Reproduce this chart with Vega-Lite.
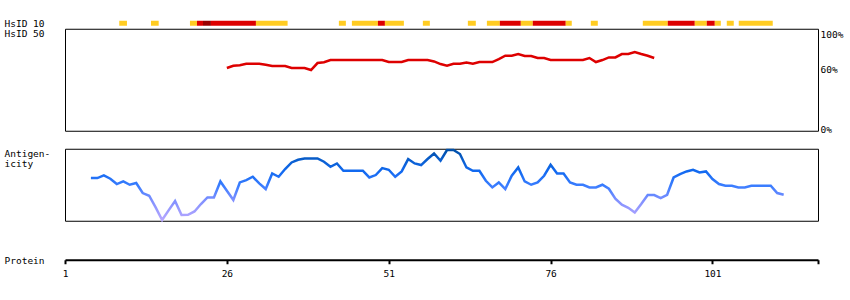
{
  "$schema": "https://vega.github.io/schema/vega-lite/v6.json",
  "autosize": {"type": "pad"},
  "padding": {"left": 3, "top": 17.75, "right": 0, "bottom": 0},
  "background": "white",
  "config": {
    "font": "DejaVu Sans Mono",
    "view": {"stroke": "black", "strokeWidth": 1},
    "axis": {
      "grid": false,
      "labelFont": "DejaVu Sans Mono",
      "titleFont": "DejaVu Sans Mono",
      "labelFontSize": 9.5,
      "titleFontSize": 9.5,
      "titleFontWeight": "normal",
      "labelColor": "black",
      "titleColor": "black"
    }
  },
  "bounds": "flush",
  "spacing": 3,
  "vconcat": [
    {
      "width": 753,
      "height": 5,
      "view": {"stroke": null},
      "data": {"values": [
        {"start": 9.38, "end": 10.57, "level": "low"},
        {"start": 14.28, "end": 15.47, "level": "low"},
        {"start": 20.30, "end": 21.38, "level": "low"},
        {"start": 21.38, "end": 22.31, "level": "mid"},
        {"start": 22.31, "end": 23.54, "level": "high"},
        {"start": 23.54, "end": 30.49, "level": "mid"},
        {"start": 30.49, "end": 35.38, "level": "low"},
        {"start": 43.30, "end": 44.38, "level": "low"},
        {"start": 45.31, "end": 49.33, "level": "low"},
        {"start": 49.33, "end": 50.41, "level": "mid"},
        {"start": 50.41, "end": 53.34, "level": "low"},
        {"start": 56.27, "end": 57.35, "level": "low"},
        {"start": 63.22, "end": 64.45, "level": "low"},
        {"start": 66.16, "end": 68.16, "level": "low"},
        {"start": 68.16, "end": 71.40, "level": "mid"},
        {"start": 71.40, "end": 73.25, "level": "low"},
        {"start": 73.25, "end": 78.34, "level": "mid"},
        {"start": 78.34, "end": 79.27, "level": "low"},
        {"start": 82.21, "end": 83.29, "level": "low"},
        {"start": 90.24, "end": 94.10, "level": "low"},
        {"start": 94.10, "end": 98.27, "level": "mid"},
        {"start": 98.27, "end": 100.12, "level": "low"},
        {"start": 100.12, "end": 101.36, "level": "mid"},
        {"start": 101.36, "end": 102.29, "level": "low"},
        {"start": 103.21, "end": 104.29, "level": "low"},
        {"start": 105.06, "end": 110.31, "level": "low"}
      ]},
      "mark": {"type": "rect"},
      "encoding": {
        "x": {"field": "start", "type": "quantitative", "scale": {"domain": [1, 117.3], "nice": false, "zero": false}, "axis": null},
        "x2": {"field": "end"},
        "y": {"datum": 0, "type": "quantitative", "scale": {"domain": [0, 1], "nice": false},
          "axis": {"title": "HsID 10", "orient": "left", "labels": false, "ticks": false, "domain": false,
            "titleAngle": 0, "titleAlign": "left", "titleBaseline": "middle", "titleX": -61, "titleY": 2.5}},
        "y2": {"datum": 1},
        "color": {"field": "level", "type": "nominal", "scale": {"domain": ["low", "mid", "high"], "range": ["#ffcc22", "#dd0000", "#990000"]}, "legend": null}
      }
    },
    {
      "width": 753,
      "height": 102,
      "layer": [
        {
          "data": {"values": [
            {"pos": 26, "hsid": 62.7}, {"pos": 27, "hsid": 65}, {"pos": 28, "hsid": 65.5}, {"pos": 29, "hsid": 67},
            {"pos": 30, "hsid": 67}, {"pos": 31, "hsid": 67}, {"pos": 32, "hsid": 66}, {"pos": 33, "hsid": 64.7},
            {"pos": 34, "hsid": 64.7}, {"pos": 35, "hsid": 64.7}, {"pos": 36, "hsid": 62.7}, {"pos": 37, "hsid": 62.7},
            {"pos": 38, "hsid": 62.7}, {"pos": 39, "hsid": 60.7}, {"pos": 40, "hsid": 67.7}, {"pos": 41, "hsid": 68.5},
            {"pos": 42, "hsid": 70.7}, {"pos": 43, "hsid": 70.7}, {"pos": 44, "hsid": 70.7}, {"pos": 45, "hsid": 70.7},
            {"pos": 46, "hsid": 70.7}, {"pos": 47, "hsid": 70.7}, {"pos": 48, "hsid": 70.7}, {"pos": 49, "hsid": 70.7},
            {"pos": 50, "hsid": 70.7}, {"pos": 51, "hsid": 68.7}, {"pos": 52, "hsid": 68.7}, {"pos": 53, "hsid": 68.7},
            {"pos": 54, "hsid": 70.7}, {"pos": 55, "hsid": 70.7}, {"pos": 56, "hsid": 70.7}, {"pos": 57, "hsid": 70.7},
            {"pos": 58, "hsid": 69.3}, {"pos": 59, "hsid": 66.7}, {"pos": 60, "hsid": 65}, {"pos": 61, "hsid": 67},
            {"pos": 62, "hsid": 67}, {"pos": 63, "hsid": 68.3}, {"pos": 64, "hsid": 67}, {"pos": 65, "hsid": 68.7},
            {"pos": 66, "hsid": 68.7}, {"pos": 67, "hsid": 68.7}, {"pos": 68, "hsid": 71.7}, {"pos": 69, "hsid": 75},
            {"pos": 70, "hsid": 75}, {"pos": 71, "hsid": 76.7}, {"pos": 72, "hsid": 74.7}, {"pos": 73, "hsid": 74.7},
            {"pos": 74, "hsid": 72.7}, {"pos": 75, "hsid": 72.7}, {"pos": 76, "hsid": 70.7}, {"pos": 77, "hsid": 70.7},
            {"pos": 78, "hsid": 70.7}, {"pos": 79, "hsid": 70.7}, {"pos": 80, "hsid": 70.7}, {"pos": 81, "hsid": 70.7},
            {"pos": 82, "hsid": 72.7}, {"pos": 83, "hsid": 68.7}, {"pos": 84, "hsid": 70.7}, {"pos": 85, "hsid": 73.3},
            {"pos": 86, "hsid": 73.3}, {"pos": 87, "hsid": 76.7}, {"pos": 88, "hsid": 76.7}, {"pos": 89, "hsid": 78.7},
            {"pos": 90, "hsid": 76.7}, {"pos": 91, "hsid": 75}, {"pos": 92, "hsid": 72.7}
          ]},
          "mark": {"type": "line", "color": "#dd0000", "strokeWidth": 2.5},
          "encoding": {
            "x": {"field": "pos", "type": "quantitative", "scale": {"domain": [1, 117.3], "nice": false, "zero": false}, "axis": null},
            "y": {"field": "hsid", "type": "quantitative", "scale": {"domain": [0, 102], "nice": false, "zero": true},
              "axis": {"orient": "right", "values": [0, 60, 100], "labelExpr": "datum.value + '%'", "ticks": false, "domain": false,
                "labelPadding": 2, "labelBaseline": "middle", "labelFlush": false, "labelBound": false,
                "labelOffset": {"condition": {"test": "datum.value == 100", "value": 4}, "value": -1.5},
                "title": "HsID 50", "titleAngle": 0, "titleAlign": "left", "titleBaseline": "middle", "titleX": -814, "titleY": 4.7}}
          }
        },
        {
          "mark": {"type": "rule", "color": "black", "strokeWidth": 1},
          "encoding": {"y": {"datum": 60, "type": "quantitative"}}
        }
      ]
    },
    {
      "width": 753,
      "height": 12,
      "view": {"stroke": null},
      "mark": {"type": "rule", "opacity": 0},
      "encoding": {}
    },
    {
      "width": 753,
      "height": 72,
      "data": {"values": [
        {"pos": 5, "score": 42.7}, {"pos": 6, "score": 42.7}, {"pos": 7, "score": 45.3}, {"pos": 8, "score": 42},
        {"pos": 9, "score": 36.7}, {"pos": 10, "score": 39.3}, {"pos": 11, "score": 36}, {"pos": 12, "score": 37.7},
        {"pos": 13, "score": 27.7}, {"pos": 14, "score": 25}, {"pos": 15, "score": 13.3}, {"pos": 16, "score": 0.7},
        {"pos": 17, "score": 10.4}, {"pos": 18, "score": 19.7}, {"pos": 19, "score": 5.7}, {"pos": 20, "score": 6},
        {"pos": 21, "score": 9.3}, {"pos": 22, "score": 16.7}, {"pos": 23, "score": 23.3}, {"pos": 24, "score": 23.3},
        {"pos": 25, "score": 39.3}, {"pos": 26, "score": 30}, {"pos": 27, "score": 20.7}, {"pos": 28, "score": 38.3},
        {"pos": 29, "score": 40.7}, {"pos": 30, "score": 44}, {"pos": 31, "score": 37.3}, {"pos": 32, "score": 31.7},
        {"pos": 33, "score": 47.3}, {"pos": 34, "score": 44}, {"pos": 35, "score": 51.7}, {"pos": 36, "score": 58.3},
        {"pos": 37, "score": 61}, {"pos": 38, "score": 62.3}, {"pos": 39, "score": 62.3}, {"pos": 40, "score": 62.3},
        {"pos": 41, "score": 59}, {"pos": 42, "score": 54}, {"pos": 43, "score": 57.3}, {"pos": 44, "score": 50},
        {"pos": 45, "score": 50}, {"pos": 46, "score": 50}, {"pos": 47, "score": 50}, {"pos": 48, "score": 43.3},
        {"pos": 49, "score": 45.7}, {"pos": 50, "score": 52.7}, {"pos": 51, "score": 51}, {"pos": 52, "score": 44},
        {"pos": 53, "score": 49.3}, {"pos": 54, "score": 61.7}, {"pos": 55, "score": 57.3}, {"pos": 56, "score": 55.7},
        {"pos": 57, "score": 61.7}, {"pos": 58, "score": 67.3}, {"pos": 59, "score": 60}, {"pos": 60, "score": 70.7},
        {"pos": 61, "score": 70.7}, {"pos": 62, "score": 66.7}, {"pos": 63, "score": 53.3}, {"pos": 64, "score": 50},
        {"pos": 65, "score": 50}, {"pos": 66, "score": 40}, {"pos": 67, "score": 33.3}, {"pos": 68, "score": 38.3},
        {"pos": 69, "score": 31.7}, {"pos": 70, "score": 45}, {"pos": 71, "score": 53.3}, {"pos": 72, "score": 39.3},
        {"pos": 73, "score": 36}, {"pos": 74, "score": 38.3}, {"pos": 75, "score": 45}, {"pos": 76, "score": 56},
        {"pos": 77, "score": 47.3}, {"pos": 78, "score": 47.3}, {"pos": 79, "score": 38.3}, {"pos": 80, "score": 36},
        {"pos": 81, "score": 36}, {"pos": 82, "score": 33.3}, {"pos": 83, "score": 33.3}, {"pos": 84, "score": 36},
        {"pos": 85, "score": 32}, {"pos": 86, "score": 22}, {"pos": 87, "score": 16}, {"pos": 88, "score": 13},
        {"pos": 89, "score": 8.3}, {"pos": 90, "score": 16.7}, {"pos": 91, "score": 25.7}, {"pos": 92, "score": 25.7},
        {"pos": 93, "score": 22.7}, {"pos": 94, "score": 26}, {"pos": 95, "score": 43.3}, {"pos": 96, "score": 46.7},
        {"pos": 97, "score": 49.3}, {"pos": 98, "score": 51}, {"pos": 99, "score": 48.3}, {"pos": 100, "score": 49.3},
        {"pos": 101, "score": 41.7}, {"pos": 102, "score": 36.7}, {"pos": 103, "score": 35}, {"pos": 104, "score": 35},
        {"pos": 105, "score": 33.3}, {"pos": 106, "score": 33.3}, {"pos": 107, "score": 35}, {"pos": 108, "score": 35},
        {"pos": 109, "score": 35}, {"pos": 110, "score": 35}, {"pos": 111, "score": 27.7}, {"pos": 112, "score": 26}
      ]},
      "mark": {
        "type": "line",
        "strokeWidth": 2.5,
        "stroke": {
          "gradient": "linear", "x1": 0, "y1": 0, "x2": 0, "y2": 1,
          "stops": [
            {"offset": 0, "color": "#004fa8"},
            {"offset": 0.15, "color": "#0a5fd0"},
            {"offset": 0.3, "color": "#1169f0"},
            {"offset": 0.51, "color": "#3a7dff"},
            {"offset": 0.72, "color": "#8090ff"},
            {"offset": 1, "color": "#b8a8ff"}
          ]
        }
      },
      "encoding": {
        "x": {"field": "pos", "type": "quantitative", "scale": {"domain": [1, 117.3], "nice": false, "zero": false}, "axis": null},
        "y": {"field": "score", "type": "quantitative", "scale": {"domain": [0, 72], "nice": false, "zero": false},
          "axis": {"title": ["Antigen-", "icity"], "labels": false, "ticks": false, "domain": false,
            "titleAngle": 0, "titleAlign": "left", "titleBaseline": "top", "titleX": -61, "titleY": 0, "titleLineHeight": 10}}
      }
    },
    {
      "width": 753,
      "height": 32,
      "view": {"stroke": null},
      "mark": {"type": "rule", "opacity": 0},
      "encoding": {}
    },
    {
      "width": 753,
      "height": 1,
      "view": {"stroke": null},
      "mark": {"type": "rule", "opacity": 0},
      "encoding": {
        "x": {"datum": 1, "type": "quantitative", "scale": {"domain": [1, 117.3], "nice": false, "zero": false},
          "axis": {"orient": "bottom", "values": [1, 26, 51, 76, 101, 117.3],
            "labelExpr": "datum.value > 110 ? '' : datum.label",
            "domainWidth": 2, "domainColor": "black", "tickWidth": 2, "tickSize": 4, "tickColor": "black",
            "labelPadding": 5, "labelFlush": false, "labelOverlap": false, "labelBound": false,
            "title": "Protein", "titleAngle": 0, "titleAlign": "left", "titleBaseline": "middle", "titleX": -61, "titleY": 1}}
      }
    }
  ]
}
